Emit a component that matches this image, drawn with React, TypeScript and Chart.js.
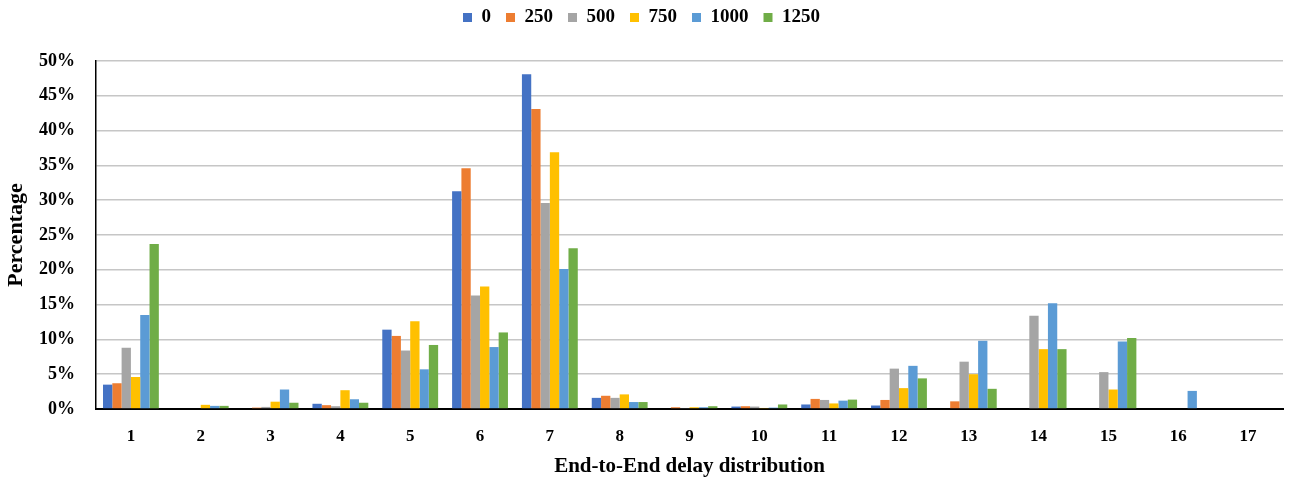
import React, { useEffect, useRef } from "react";
import { Chart, registerables } from "chart.js";

Chart.register(...registerables);

const categories = ["1", "2", "3", "4", "5", "6", "7", "8", "9", "10", "11", "12", "13", "14", "15", "16", "17"];
const seriesNames = ["0", "250", "500", "750", "1000", "1250"];
const s0 = [3.5, 0, 0, 0.75, 11.4, 31.3, 48.1, 1.6, 0, 0.35, 0.65, 0.5, 0, 0, 0, 0, 0];
const s250 = [3.7, 0, 0.2, 0.55, 10.5, 34.6, 43.1, 1.9, 0.25, 0.4, 1.45, 1.3, 1.1, 0, 0, 0, 0];
const s500 = [8.8, 0, 0.3, 0.4, 8.4, 16.3, 29.6, 1.6, 0.15, 0.35, 1.3, 5.8, 6.8, 13.4, 5.3, 0, 0];
const s750 = [4.6, 0.6, 1.05, 2.7, 12.6, 17.6, 36.9, 2.1, 0.25, 0.15, 0.8, 3.0, 5.0, 8.6, 2.8, 0, 0];
const s1000 = [13.5, 0.45, 2.8, 1.4, 5.7, 8.9, 20.1, 1.0, 0.25, 0.2, 1.2, 6.2, 9.8, 15.2, 9.7, 2.6, 0];
const s1250 = [23.7, 0.45, 0.9, 0.9, 9.2, 11.0, 23.1, 1.0, 0.4, 0.65, 1.35, 4.4, 2.9, 8.6, 10.2, 0, 0];
const seriesValues = [s0, s250, s500, s750, s1000, s1250];
const seriesColors = ["#4472C4", "#ED7D31", "#A5A5A5", "#FFC000", "#5B9BD5", "#70AD47"];
const yTickStep = 5;
const yMax = 50;

const FONT = "'Liberation Serif', 'Times New Roman', serif";

const legendGap = {
  id: "legendGap",
  beforeInit(chart: any) {
    const legend = chart.legend;
    if (!legend) return;
    const origFit = legend.fit;
    legend.fit = function () {
      origFit.call(this);
      this.height += 24;
    };
  },
};

export default function App() {
  const ref = useRef<HTMLCanvasElement | null>(null);
  useEffect(() => {
    if (!ref.current) return;
    const chart = new Chart(ref.current, {
      type: "bar",
      data: {
        labels: categories,
        datasets: seriesNames.map((name, i) => ({
          label: name,
          data: seriesValues[i],
          backgroundColor: seriesColors[i],
          borderWidth: 0,
          barPercentage: 1,
          categoryPercentage: 0.8,
        })),
      },
      plugins: [legendGap],
      options: {
        animation: false,
        responsive: false,
        maintainAspectRatio: false,
        layout: { padding: { top: -7, right: 11, left: 0, bottom: 0 } },
        plugins: {
          legend: {
            position: "top",
            labels: {
              boxWidth: 9,
              boxHeight: 9,
              padding: 15,
              color: "#000",
              font: { family: FONT, size: 19, weight: "bold" },
            },
          },
          tooltip: { enabled: false },
        },
        scales: {
          x: {
            grid: { display: false, drawTicks: false },
            border: { display: true, color: "#000", width: 2 },
            ticks: {
              color: "#000",
              padding: 17,
              font: { family: FONT, size: 17, weight: "bold" },
            },
            title: {
              display: true,
              text: "End-to-End delay distribution",
              color: "#000",
              font: { family: FONT, size: 21, weight: "bold" },
              padding: { top: 0, bottom: 2 },
            },
            afterFit: (scale: any) => {
              scale.height = 72;
            },
          },
          y: {
            min: 0,
            max: yMax,
            grid: { color: "#c6c6c6", lineWidth: 1.6, drawTicks: false },
            border: { display: true, color: "#000", width: 1.5 },
            ticks: {
              stepSize: yTickStep,
              color: "#000",
              padding: 21,
              font: { family: FONT, size: 18, weight: "bold" },
              callback: (v: any) => `${v}%`,
            },
            title: {
              display: true,
              text: "Percentage",
              color: "#000",
              font: { family: FONT, size: 22, weight: "bold" },
              padding: { top: 3, bottom: 0 },
            },
            afterFit: (scale: any) => {
              scale.width = 96;
            },
          },
        },
      },
    });
    return () => chart.destroy();
  }, []);
  return (
    <div style={{ position: "absolute", left: 0, top: 0, width: 1294, height: 481, background: "#fff" }}>
      <canvas ref={ref} width={1294} height={481} style={{ display: "block" }} />
    </div>
  );
}
